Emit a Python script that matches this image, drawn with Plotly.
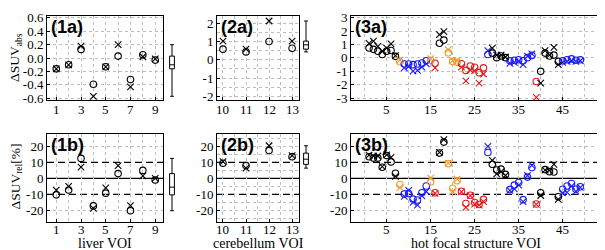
import plotly.graph_objects as go

# ---------------- data ----------------
voi1 = [1, 2, 3, 4, 5, 6, 7, 8, 9]
abs1_o = [-0.16, -0.10, 0.13, -0.39, -0.13, 0.03, -0.32, 0.05, -0.03]
abs1_x = [-0.16, -0.10, 0.18, -0.57, -0.13, 0.20, -0.43, 0.02, -0.01]
rel1_o = [-10.3, -7.3, 12.5, -17.2, -9.3, 3.0, -20.2, 5.0, -1.0]
rel1_x = [-7.3, -5.0, 7.0, -18.8, -6.0, 8.0, -17.0, 1.6, 0.0]

voi2 = [10, 11, 12, 13]
abs2_o = [0.58, 0.43, 1.0, 0.63]
abs2_x = [1.02, 0.58, 2.12, 1.02]
rel2_o = [9.5, 8.0, 17.4, 13.5]
rel2_x = [10.5, 6.4, 20.4, 14.2]

voi3 = [1, 2, 3, 4, 5, 6, 7, 8, 9, 10, 11, 12, 13, 14, 15, 16, 17, 18, 19, 20,
        21, 22, 23, 24, 25, 26, 27, 28, 29, 30, 31, 32, 33, 34, 35, 36, 37, 38, 39, 40,
        41, 42, 43, 44, 45, 46, 47, 48, 49]
grp3 = ['k', 'k', 'k', 'k', 'k', 'k', 'k', 'o', 'b', 'b', 'b', 'b', 'b', 'b', 'o', 'r', 'k', 'k', 'o', 'o',
        'o', 'r', 'r', 'r', 'r', 'r', 'r', 'b', 'k', 'k', 'k', 'k', 'b', 'b', 'b', 'b', 'b', 'b', 'r', 'k',
        'k', 'k', 'k', 'k', 'b', 'b', 'b', 'b', 'b']
abs3_o = [0.74, 0.64, 0.50, 0.26, 0.50, 0.55, 0.12, -0.29, -0.45, -0.45, -0.50, -0.45, -0.38, -0.21, -0.17, -0.40,
          1.10, 1.33, 0.38, -0.26, -0.33, -0.43, -0.93, -0.60, -0.69, -1.10, -0.74, 0.26, 0.36, 0.02, 0.14, 0.02,
          -0.21, -0.17, -0.14, -0.21, 0.02, 0.19, -1.76, -1.00, 0.36, 0.14, 0.21, -0.26, -0.21, -0.14, -0.07, -0.17, -0.14]
abs3_x = [1.09, 1.26, 0.86, 0.50, 0.74, 1.05, 0.18, -0.17, -0.74, -0.64, -0.98, -0.93, -0.69, -0.45, -0.05, -0.74,
          1.74, 1.96, 0.62, -0.20, -0.20, -0.69, -1.71, -0.90, -0.95, -1.88, -1.20, 0.55, 0.74, 0.21, 0.21, 0.07,
          -0.40, -0.33, -0.26, -0.50, 0.14, 0.31, -2.95, -1.88, 0.55, 0.21, 0.79, -0.50, -0.33, -0.26, -0.21, -0.26, -0.21]
rel3_o = [13.5, 12.7, 12.7, 7.0, 14.3, 10.3, 3.2, -3.8, -9.7, -9.5, -13.0, -13.5, -9.0, -4.8, -2.2, -9.0,
          15.8, 22.7, 9.2, -6.2, -1.5, -8.0, -15.7, -10.5, -15.1, -16.3, -13.1, 16.2, 8.8, 5.2, 5.8, 2.5,
          -7.0, -4.2, -2.6, -13.3, 0.8, 6.8, -16.0, -9.0, 5.5, 4.2, 4.0, -11.5, -6.8, -4.8, -3.2, -6.8, -5.2]
rel3_x = [14.5, 14.0, 14.0, 7.4, 14.7, 13.1, 1.2, -5.8, -11.3, -7.5, -15.0, -16.7, -11.0, -8.2, 0.2, -9.4,
          16.2, 24.2, 9.6, -8.2, -0.5, -8.4, -18.1, -10.8, -16.1, -16.7, -14.5, 20.0, 11.3, 2.8, 4.2, 1.8,
          -7.5, -6.6, -4.2, -14.5, 1.8, 8.2, -16.3, -10.7, 5.2, 5.0, 8.8, -13.1, -9.1, -8.8, -4.8, -8.1, -5.6]

palette = {'k': '#000000', 'o': '#f39a2b', 'b': '#1a1aff', 'r': '#e8161b'}

xticks1 = [1, 3, 5, 7, 9]
xticks2 = [10, 11, 12, 13]
xticks3 = [5, 15, 25, 35, 45]

ticks_abs1 = [-0.6, -0.4, -0.2, 0.0, 0.2, 0.4, 0.6]
ticktext_abs1 = ['-0.6', '-0.4', '-0.2', '0.0', '0.2', '0.4', '0.6']
ticks_abs2 = [-2, -1, 0, 1, 2]
ticktext_abs2 = ['-2', '-1', '0', '1', '2']
ticks_abs3 = [-3, -2, -1, 0, 1, 2, 3]
ticktext_abs3 = ['-3', '-2', '-1', '0', '1', '2', '3']
ticks_rel = [-20, -10, 0, 10, 20]
ticktext_rel = ['-20', '-10', '0', '10', '20']
grid_rel = [-20, 20]
grid_rel_fine = [-25, -20, -15, -5, 5, 15, 20, 25]

ref_levels = [-10, 0, 10]
ref_dash = ['7px,4px', 'solid', '7px,4px']

panel_labels = ['(1a)', '(2a)', '(3a)', '(1b)', '(2b)', '(3b)']
xtitles = ['liver VOI', 'cerebellum VOI', 'hot focal structure VOI']

# ---------------- layout geometry (pixels) ----------------
W, H = 605, 250
def fx(p):
    return p / W
def fy(p):
    return 1 - p / H

xdom = [[fx(39), fx(155)], [fx(209), fx(291)], [fx(343), fx(593)]]
boxdom = [[fx(158), fx(170)], [fx(292), fx(304)], [fx(594), fx(605)]]
ydom_top = [fy(91), fy(3)]
ydom_bot = [fy(219), fy(127)]
xlabel_rows = [fy(101), fy(226)]

FONT = 'Liberation Serif'
GRID = '#bdbdbd'

fig = go.Figure()

def add_pair(xv, yo, yx, colors, ax):
    xa, ya = ax
    fig.add_trace(go.Scatter(x=xv, y=yo, mode='markers', xaxis=xa, yaxis=ya,
                             marker=dict(symbol='circle-open', size=6.5, color=colors,
                                         line=dict(width=1.1)),
                             showlegend=False, hoverinfo='skip'))
    fig.add_trace(go.Scatter(x=xv, y=yx, mode='markers', xaxis=xa, yaxis=ya,
                             marker=dict(symbol='x-thin-open', size=6.5, color=colors,
                                         line=dict(width=1.1, color=colors)),
                             showlegend=False, hoverinfo='skip'))

cols3 = [palette[g] for g in grp3]
add_pair(voi1, abs1_o, abs1_x, 'black', ('x', 'y'))
add_pair(voi2, abs2_o, abs2_x, 'black', ('x2', 'y2'))
add_pair(voi3, abs3_o, abs3_x, cols3, ('x3', 'y3'))
add_pair(voi1, rel1_o, rel1_x, 'black', ('x4', 'y4'))
add_pair(voi2, rel2_o, rel2_x, 'black', ('x5', 'y5'))
add_pair(voi3, rel3_o, rel3_x, cols3, ('x6', 'y6'))

box_sets = [abs1_o + abs1_x, abs2_o + abs2_x, abs3_o + abs3_x,
            rel1_o + rel1_x, rel2_o + rel2_x, rel3_o + rel3_x]
box_points = [False, False, 'outliers', False, False, False]
for i, vals in enumerate(box_sets):
    n = i + 7
    fig.add_trace(go.Box(y=vals, x0=0, xaxis='x%d' % n, yaxis='y%d' % n,
                         boxpoints=box_points[i], width=0.8, whiskerwidth=0.8,
                         fillcolor='white', line=dict(color='black', width=1),
                         marker=dict(symbol='circle-open', size=6, color='black'),
                         showlegend=False, hoverinfo='skip'))

common = dict(showline=True, linecolor='black', linewidth=1, mirror=True,
              ticks='inside', ticklen=3, tickcolor='black',
              showgrid=True, gridcolor=GRID, griddash='dot', gridwidth=1,
              zeroline=False, ticklabeloverflow='allow',
              tickfont=dict(family=FONT, size=13, color='black'))

def minor(d=None, vals=None):
    m = dict(showgrid=True, gridcolor=GRID, griddash='dot', ticklen=0)
    if vals is not None:
        m.update(tickmode='array', tickvals=vals)
    else:
        m.update(dtick=d)
    return m

xcfg = [dict(range=[0.25, 9.63], tickmode='array', tickvals=xticks1, minor=minor(1)),
        dict(range=[9.74, 13.3], tickmode='array', tickvals=xticks2, minor=minor(0.5)),
        dict(range=[-3.1, 53.7], tickmode='array', tickvals=xticks3, minor=minor(5))]
ycfg_top = [dict(range=[-0.625, 0.63], tickmode='array', tickvals=ticks_abs1, ticktext=ticktext_abs1),
            dict(range=[-2.2, 2.4], tickmode='array', tickvals=ticks_abs2, ticktext=ticktext_abs2,
                 minor=minor(0.5)),
            dict(range=[-3.14, 3.14], tickmode='array', tickvals=ticks_abs3, ticktext=ticktext_abs3)]
ycfg_bot = [dict(range=[-27.5, 27.5], tickmode='array', tickvals=ticks_rel, ticktext=ticktext_rel,
                 showgrid=False, minor=minor(vals=grid_rel)),
            dict(range=[-27.5, 27.5], tickmode='array', tickvals=ticks_rel, ticktext=ticktext_rel,
                 showgrid=False, minor=minor(vals=grid_rel_fine)),
            dict(range=[-27.5, 27.5], tickmode='array', tickvals=ticks_rel, ticktext=ticktext_rel,
                 showgrid=False, minor=minor(vals=grid_rel))]

layout = dict(width=W, height=H, margin=dict(l=0, r=0, t=0, b=0),
              paper_bgcolor='white', plot_bgcolor='white', showlegend=False)

for c in range(3):
    n = c + 1
    xk = 'xaxis' if n == 1 else 'xaxis%d' % n
    yk = 'yaxis' if n == 1 else 'yaxis%d' % n
    layout[xk] = dict(common, domain=xdom[c], anchor='y' if n == 1 else 'y%d' % n,
                      showticklabels=False, **xcfg[c])
    layout[yk] = dict(common, domain=ydom_top, anchor='x' if n == 1 else 'x%d' % n, **ycfg_top[c])
    m = c + 4
    layout['xaxis%d' % m] = dict(common, domain=xdom[c], anchor='y%d' % m,
                                 showticklabels=False, **xcfg[c])
    layout['yaxis%d' % m] = dict(common, domain=ydom_bot, anchor='x%d' % m, **ycfg_bot[c])

yranges = [ycfg_top[0]['range'], ycfg_top[1]['range'], ycfg_top[2]['range'],
           ycfg_bot[0]['range'], ycfg_bot[1]['range'], ycfg_bot[2]['range']]
for i in range(6):
    n = i + 7
    layout['xaxis%d' % n] = dict(domain=boxdom[i % 3], anchor='y%d' % n, range=[-1, 1], visible=False)
    layout['yaxis%d' % n] = dict(domain=ydom_top if i < 3 else ydom_bot, anchor='x%d' % n,
                                 range=yranges[i], visible=False)

shapes = []
for m in (4, 5, 6):
    for lv, ds in zip(ref_levels, ref_dash):
        shapes.append(dict(type='line', xref='x%d' % m, yref='y%d' % m,
                           x0=xcfg[m - 4]['range'][0], x1=xcfg[m - 4]['range'][1], y0=lv, y1=lv,
                           layer='below',
                           line=dict(color='black', width=1.2, dash=ds)))
layout['shapes'] = shapes

ann = []
axes_ids = ['x', 'x2', 'x3', 'x4', 'x5', 'x6']
yids = ['y', 'y2', 'y3', 'y4', 'y5', 'y6']
for i, lab in enumerate(panel_labels):
    ann.append(dict(text='<b>%s</b>' % lab, xref='%s domain' % axes_ids[i], yref='%s domain' % yids[i],
                    x=0, y=1, xanchor='left', yanchor='top', xshift=2, yshift=1, showarrow=False,
                    font=dict(family='Liberation Sans', size=18, color='black')))

# x tick labels (one row per panel row)
xtick_sets = [xticks1, xticks2, xticks3]
for i in range(6):
    for v in xtick_sets[i % 3]:
        ann.append(dict(text=str(v), xref=axes_ids[i], yref='paper', x=v, y=xlabel_rows[i // 3],
                        showarrow=False, xanchor='center', yanchor='middle', borderpad=0,
                        font=dict(family=FONT, size=13, color='black')))

ann.append(dict(text='ΔSUV<sub>abs</sub>', xref='paper', yref='paper', x=fx(8), y=fy(47),
                textangle=-90, showarrow=False, xanchor='center', yanchor='middle', borderpad=0,
                font=dict(family=FONT, size=13.5, color='black')))
ann.append(dict(text='ΔSUV<sub>rel</sub>[%]', xref='paper', yref='paper', x=fx(8), y=fy(171),
                textangle=-90, showarrow=False, xanchor='center', yanchor='middle', borderpad=0,
                font=dict(family=FONT, size=13.5, color='black')))
for c, t in enumerate(xtitles):
    ann.append(dict(text=t, xref='paper', yref='paper', x=(xdom[c][0] + xdom[c][1]) / 2, y=0,
                    showarrow=False, xanchor='center', yanchor='bottom', borderpad=0,
                    font=dict(family=FONT, size=14, color='black')))
layout['annotations'] = ann

fig.update_layout(**layout)
fig.write_html('out.html')
